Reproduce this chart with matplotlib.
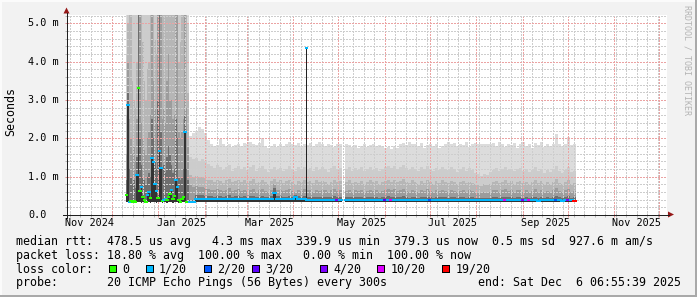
import datetime as dt
import numpy as np
import matplotlib
matplotlib.use('Agg')
import matplotlib.pyplot as plt
import matplotlib.transforms as mtrans
from matplotlib.patches import Rectangle, Polygon
from matplotlib.lines import Line2D

W, H = 697, 297
START = dt.datetime(2024, 11, 1, 6, 55, 39)
SPAN_DAYS = 400

# loss count -> colour (smokeping legend)
loss_levels = [0, 1, 2, 3, 4, 10, 19]
loss_labels = ['0', '1/20', '2/20', '3/20', '4/20', '10/20', '19/20']
loss_colors = ['#26ff00', '#00b8ff', '#0059ff', '#5e00ff', '#7e00ff', '#dd00ff', '#ff0000']

# ---- noisy period (Dec/Jan), one column per day, values in ms ----
noisy_first_day = 39
noisy_lo = [0.33, 0.33, 0.31, 0.33, 0.32, 0.33, 0.30, 0.33, 0.33, 0.33,
            0.32, 0.33, 0.33, 0.30, 0.33, 0.33, 0.32, 0.33, 0.33, 0.33,
            0.32, 0.33, 0.33, 0.33, 0.31, 0.33, 0.33, 0.32, 0.33, 0.33,
            0.33, 0.32, 0.33, 0.33, 0.33, 0.30, 0.33, 0.33, 0.33, 0.33,
            0.32, 0.31]
noisy_med = [0.53, 2.86, 0.33, 0.37, 0.35, 0.37, 0.33, 1.05, 3.30, 0.62,
             0.72, 0.48, 0.40, 0.33, 0.52, 0.60, 0.45, 1.49, 1.38, 0.80,
             0.63, 0.45, 1.67, 1.22, 0.37, 0.40, 0.43, 0.38, 0.47, 0.55,
             0.65, 0.42, 0.50, 0.92, 0.72, 0.38, 0.33, 0.43, 0.47, 2.16,
             0.35, 0.33]
noisy_loss = [0, 1, 1, 0, 0, 0, 0, 1, 0, 0,
              1, 0, 0, 0, 1, 1, 0, 1, 1, 1,
              1, 0, 1, 1, 0, 1, 1, 0, 0, 0,
              1, 0, 0, 1, 1, 0, 0, 0, 0, 1,
              0, 0]
noisy_u1 = [0.90, 3.20, 1.20, 1.00, 0.80, 0.90, 0.70, 1.50, 9.00, 2.00,
            1.30, 1.00, 0.90, 0.80, 1.00, 1.10, 1.00, 2.50, 2.00, 1.40,
            1.20, 3.00, 9.00, 2.20, 1.20, 1.30, 1.10, 1.50, 1.80, 1.60,
            1.30, 1.10, 1.20, 2.50, 2.00, 1.00, 0.90, 1.00, 1.20, 2.60,
            1.20, 0.90]
noisy_u2 = [1.60, 4.00, 2.50, 2.00, 1.60, 1.80, 1.40, 2.50, 9.00, 9.00,
            2.40, 2.00, 1.70, 1.60, 2.00, 2.20, 2.60, 9.00, 3.50, 2.80,
            2.40, 9.00, 9.00, 9.00, 2.50, 2.80, 2.40, 3.50, 4.20, 3.00,
            3.00, 2.50, 2.60, 9.00, 9.00, 2.20, 2.00, 2.20, 2.50, 9.00,
            2.80, 1.80]
noisy_u3 = [2.60, 5.00, 9.00, 9.00, 3.50, 3.00, 2.80, 4.00, 9.00, 9.00,
            9.00, 4.50, 3.50, 3.00, 3.80, 4.00, 9.00, 9.00, 9.00, 4.60,
            4.20, 9.00, 9.00, 9.00, 9.00, 9.00, 9.00, 9.00, 9.00, 9.00,
            9.00, 9.00, 9.00, 9.00, 9.00, 4.00, 4.50, 9.00, 9.00, 9.00,
            9.00, 3.20]
noisy_u4 = [4.20, 9.00, 9.00, 9.00, 9.00, 9.00, 9.00, 9.00, 9.00, 9.00,
            9.00, 9.00, 9.00, 9.00, 9.00, 9.00, 9.00, 9.00, 9.00, 9.00,
            9.00, 9.00, 9.00, 9.00, 9.00, 9.00, 9.00, 9.00, 9.00, 9.00,
            9.00, 9.00, 9.00, 9.00, 9.00, 9.00, 9.00, 9.00, 9.00, 9.00,
            9.00, 5.00]
noisy_u5 = [9.00] * 42

# ---- steady period, one column per 2 days ----
steady_first_day = 81
nan = float('nan')
steady_lo = [0.31, 0.31, 0.34, 0.34, 0.33, 0.34, 0.33, 0.34, 0.33, 0.34,
             0.33, 0.34, 0.33, 0.33, 0.34, 0.33, 0.34, 0.33, 0.33, 0.34,
             0.33, 0.33, 0.34, 0.33, 0.33, 0.34, 0.33, 0.33, 0.34, 0.33,
             0.33, 0.34, 0.33, 0.33, 0.34, 0.33, 0.33, 0.33, 0.34, 0.33,
             0.33, 0.33, 0.34, 0.33, 0.33, 0.33, 0.34, 0.33, 0.33, 0.33,
             0.33, nan, 0.33, 0.33, 0.34, 0.33, 0.33, 0.33, 0.34, 0.33,
             0.33, 0.33, 0.34, 0.33, 0.33, 0.33, 0.34, 0.33, 0.33, 0.33,
             0.33, 0.34, 0.33, 0.33, 0.33, 0.34, 0.33, 0.33, 0.33, 0.33,
             0.34, 0.33, 0.33, 0.33, 0.34, 0.33, 0.33, 0.33, 0.33, 0.34,
             0.33, 0.33, 0.33, 0.34, 0.33, 0.33, 0.33, 0.33, 0.34, 0.33,
             0.33, 0.33, 0.34, 0.33, 0.33, 0.33, 0.33, 0.34, 0.33, 0.33,
             0.33, 0.34, 0.33, 0.33, 0.33, 0.33, 0.34, 0.33, 0.33, 0.33,
             0.34, 0.33, 0.33, 0.33, 0.33, 0.34, 0.33, 0.33, 0.33]
steady_med = [0.33, 0.33, 0.43, 0.43, 0.42, 0.43, 0.43, 0.42, 0.43, 0.43,
              0.42, 0.42, 0.41, 0.42, 0.41, 0.42, 0.41, 0.42, 0.41, 0.42,
              0.41, 0.42, 0.41, 0.41, 0.42, 0.41, 0.41, 0.42, 0.58, 0.42,
              0.42, 0.41, 0.42, 0.41, 0.42, 0.46, 0.42, 0.41, 0.41, 0.40,
              0.40, 0.39, 0.40, 0.39, 0.39, 0.40, 0.39, 0.39, 0.40, 0.39,
              0.39, nan, 0.39, 0.38, 0.39, 0.38, 0.39, 0.38, 0.38, 0.39,
              0.38, 0.39, 0.38, 0.38, 0.39, 0.38, 0.38, 0.39, 0.38, 0.39,
              0.39, 0.38, 0.39, 0.40, 0.38, 0.39, 0.38, 0.39, 0.38, 0.38,
              0.39, 0.38, 0.39, 0.38, 0.38, 0.39, 0.40, 0.38, 0.39, 0.38,
              0.38, 0.39, 0.38, 0.38, 0.39, 0.38, 0.38, 0.39, 0.38, 0.39,
              0.38, 0.39, 0.38, 0.39, 0.38, 0.38, 0.39, 0.38, 0.39, 0.38,
              0.38, 0.39, 0.40, 0.38, 0.39, 0.38, 0.37, 0.39, 0.38, 0.39,
              0.40, 0.38, 0.39, 0.38, 0.37, 0.39, 0.38, 0.39, 0.37]
steady_loss = [1, 1, 1, 1, 1, 1, 1, 1, 1, 1,
               1, 1, 1, 1, 1, 1, 1, 1, 1, 1,
               1, 1, 1, 1, 1, 1, 1, 1, 1, 1,
               1, 1, 1, 1, 1, 1, 1, 1, 1, 1,
               1, 1, 1, 1, 1, 1, 1, 1, 1, 4,
               1, 1, 1, 1, 1, 1, 1, 1, 1, 1,
               1, 1, 1, 1, 1, 3, 1, 10, 1, 1,
               1, 1, 1, 1, 1, 1, 1, 1, 1, 1,
               2, 1, 1, 1, 1, 1, 1, 1, 1, 1,
               1, 1, 1, 1, 1, 1, 1, 1, 1, 1,
               1, 1, 1, 1, 1, 10, 1, 1, 1, 1,
               1, 4, 1, 10, 1, 1, 1, 1, 1, 1,
               1, 1, 2, 1, 1, 1, 4, 1, 19]
steady_u1 = [0.40, 0.40, 0.52, 0.51, 0.52, 0.50, 0.50, 0.49, 0.48, 0.50,
             0.49, 0.48, 0.49, 0.51, 0.48, 0.49, 0.50, 0.48, 0.49, 0.47,
             0.49, 0.50, 0.47, 0.48, 0.50, 0.48, 0.47, 0.49, 0.70, 0.49,
             0.49, 0.47, 0.48, 0.50, 0.48, 0.52, 0.49, 0.48, 0.49, 0.48,
             0.47, 0.46, 0.48, 0.47, 0.48, 0.47, 0.46, 0.47, 0.49, 0.47,
             0.48, nan, 0.47, 0.48, 0.46, 0.47, 0.46, 0.48, 0.45, 0.47,
             0.48, 0.46, 0.47, 0.45, 0.46, 0.48, 0.49, 0.47, 0.48, 0.46,
             0.48, 0.49, 0.47, 0.45, 0.48, 0.47, 0.45, 0.47, 0.46, 0.48,
             0.47, 0.45, 0.47, 0.46, 0.48, 0.47, 0.45, 0.47, 0.46, 0.45,
             0.47, 0.48, 0.45, 0.47, 0.46, 0.45, 0.44, 0.44, 0.45, 0.44,
             0.45, 0.47, 0.48, 0.45, 0.47, 0.48, 0.46, 0.47, 0.45, 0.47,
             0.48, 0.45, 0.47, 0.45, 0.46, 0.48, 0.45, 0.47, 0.44, 0.46,
             0.45, 0.47, 0.50, 0.46, 0.45, 0.47, 0.49, 0.45, 0.46]
steady_u2 = [0.78, 0.74, 0.76, 0.72, 0.74, 0.70, 0.68, 0.66, 0.64, 0.68,
             0.65, 0.62, 0.66, 0.70, 0.63, 0.65, 0.68, 0.63, 0.66, 0.62,
             0.66, 0.69, 0.61, 0.64, 0.67, 0.63, 0.60, 0.65, 0.80, 0.64,
             0.66, 0.62, 0.65, 0.68, 0.63, 0.61, 0.66, 0.63, 0.67, 0.64,
             0.65, 0.61, 0.66, 0.63, 0.66, 0.64, 0.60, 0.64, 0.68, 0.63,
             0.65, nan, 0.63, 0.66, 0.61, 0.64, 0.62, 0.66, 0.60, 0.63,
             0.66, 0.63, 0.65, 0.61, 0.63, 0.66, 0.68, 0.64, 0.67, 0.63,
             0.66, 0.69, 0.63, 0.61, 0.66, 0.63, 0.60, 0.65, 0.62, 0.67,
             0.63, 0.61, 0.65, 0.62, 0.66, 0.63, 0.61, 0.65, 0.63, 0.60,
             0.63, 0.66, 0.61, 0.64, 0.62, 0.60, 0.58, 0.57, 0.60, 0.58,
             0.61, 0.64, 0.66, 0.61, 0.64, 0.67, 0.62, 0.65, 0.61, 0.64,
             0.66, 0.61, 0.64, 0.60, 0.63, 0.67, 0.61, 0.65, 0.60, 0.63,
             0.61, 0.64, 0.70, 0.62, 0.60, 0.64, 0.68, 0.61, 0.62]
steady_u3 = [1.05, 1.00, 1.02, 0.98, 1.00, 0.96, 0.92, 0.90, 0.86, 0.92,
             0.88, 0.84, 0.90, 0.94, 0.85, 0.88, 0.92, 0.86, 0.90, 0.84,
             0.89, 0.93, 0.83, 0.87, 0.91, 0.85, 0.82, 0.88, 0.95, 0.86,
             0.90, 0.84, 0.88, 0.92, 0.86, 0.82, 0.89, 0.85, 0.91, 0.87,
             0.88, 0.83, 0.90, 0.85, 0.89, 0.86, 0.81, 0.87, 0.92, 0.85,
             0.88, nan, 0.86, 0.90, 0.83, 0.87, 0.84, 0.89, 0.82, 0.86,
             0.90, 0.85, 0.88, 0.82, 0.86, 0.89, 0.92, 0.87, 0.91, 0.85,
             0.89, 0.93, 0.86, 0.83, 0.90, 0.86, 0.82, 0.88, 0.84, 0.91,
             0.86, 0.82, 0.88, 0.84, 0.90, 0.86, 0.83, 0.89, 0.85, 0.80,
             0.85, 0.89, 0.83, 0.87, 0.84, 0.80, 0.78, 0.76, 0.80, 0.78,
             0.82, 0.86, 0.89, 0.83, 0.87, 0.90, 0.84, 0.88, 0.82, 0.86,
             0.89, 0.83, 0.87, 0.81, 0.85, 0.90, 0.83, 0.88, 0.80, 0.85,
             0.82, 0.87, 0.95, 0.84, 0.80, 0.86, 0.92, 0.82, 0.84]
steady_u4 = [1.50, 1.46, 1.48, 1.42, 1.46, 1.40, 1.34, 1.28, 1.22, 1.30,
             1.26, 1.18, 1.24, 1.30, 1.16, 1.22, 1.28, 1.20, 1.25, 1.18,
             1.24, 1.30, 1.15, 1.22, 1.27, 1.19, 1.12, 1.20, 1.26, 1.18,
             1.23, 1.16, 1.21, 1.28, 1.20, 1.14, 1.24, 1.19, 1.26, 1.20,
             1.22, 1.15, 1.26, 1.18, 1.24, 1.20, 1.13, 1.22, 1.27, 1.19,
             1.23, nan, 1.20, 1.26, 1.16, 1.22, 1.18, 1.25, 1.14, 1.21,
             1.26, 1.18, 1.23, 1.15, 1.20, 1.24, 1.27, 1.22, 1.28, 1.20,
             1.25, 1.30, 1.22, 1.18, 1.26, 1.21, 1.16, 1.24, 1.19, 1.27,
             1.20, 1.15, 1.23, 1.18, 1.25, 1.21, 1.17, 1.24, 1.20, 1.13,
             1.19, 1.24, 1.16, 1.22, 1.18, 1.10, 1.06, 1.02, 1.08, 1.04,
             1.12, 1.18, 1.22, 1.15, 1.20, 1.24, 1.17, 1.21, 1.14, 1.19,
             1.23, 1.16, 1.20, 1.12, 1.18, 1.24, 1.15, 1.21, 1.10, 1.17,
             1.13, 1.20, 1.28, 1.16, 1.10, 1.18, 1.24, 1.12, 1.15]
steady_u5 = [2.05, 2.15, 2.20, 2.30, 2.25, 2.15, 1.95, 1.85, 1.80, 1.83,
             1.98, 1.84, 1.80, 1.86, 1.78, 1.82, 1.85, 1.80, 1.88, 1.84,
             1.90, 1.86, 1.82, 1.88, 2.00, 1.80, 1.76, 1.80, 1.84, 1.78,
             1.86, 1.80, 1.85, 1.90, 1.84, 1.82, 1.87, 1.81, 1.86, 1.83,
             1.88, 1.80, 1.84, 1.90, 1.85, 1.80, 1.86, 1.82, 1.78, 1.84,
             1.86, nan, 1.86, 1.83, 1.78, 1.82, 1.76, 1.80, 1.84, 1.78,
             1.82, 1.86, 1.80, 1.83, 1.79, 1.74, 1.78, 1.72, 1.80, 1.76,
             1.84, 1.88, 1.82, 1.90, 1.86, 1.84, 1.80, 1.88, 1.76, 1.82,
             1.86, 1.79, 1.84, 1.74, 1.80, 1.86, 1.90, 1.84, 1.88, 1.80,
             1.86, 1.82, 1.90, 1.78, 1.84, 1.88, 1.84, 1.86, 1.85, 1.84,
             1.86, 1.88, 1.80, 1.90, 1.84, 1.78, 1.86, 1.82, 1.88, 1.76,
             1.84, 1.90, 1.80, 1.86, 1.74, 1.88, 1.82, 1.90, 1.78, 1.84,
             1.80, 1.86, 2.10, 1.84, 1.80, 1.86, 2.03, 1.82, 1.86]

# single-sample outliers
spike_day = [159.0]
spike_lo = [0.38]
spike_med = [4.35]
spike_loss = [1]
thin_day = [333.0]
thin_top = [3.20]

legend_line1 = "median rtt:  478.5 us avg   4.3 ms max  339.9 us min  379.3 us now  0.5 ms sd  927.6 m am/s"
legend_line2 = "packet loss: 18.80 % avg  100.00 % max   0.00 % min  100.00 % now"
legend_line4 = "probe:       20 ICMP Echo Pings (56 Bytes) every 300s"
end_text = "end: Sat Dec  6 06:55:39 2025"

# ---------------------------------------------------------------
MONO = 'DejaVu Sans Mono'
band_colors = ['#6e6e6e', '#9c9c9c', '#b6b6b6', '#cccccc', '#dcdcdc']
below_color = '#333333'
loss_map = dict(zip(loss_levels, loss_colors))


def day_of(t):
    return (t - START).total_seconds() / 86400.0


def draw_columns(ax, first, step, lo, med, loss, ups):
    x = first + step * np.arange(len(lo))
    lo = np.asarray(lo, float)
    # lightest band first, darker ones on top
    for level, col in zip(ups[::-1], band_colors[::-1]):
        lv = np.minimum(np.asarray(level, float), 6.0)
        ok = ~np.isnan(lv)
        ax.bar(x[ok], lv[ok] - lo[ok], bottom=lo[ok], width=step, align='edge',
               color=col, linewidth=0, antialiased=False, zorder=1)
    m = np.asarray(med, float)
    ok = ~np.isnan(m)
    ax.bar(x[ok], m[ok] - lo[ok], bottom=lo[ok], width=step, align='edge',
           color=below_color, linewidth=0, antialiased=False, zorder=2.6)
    cols = np.array([loss_map[l] for l in loss])
    ax.hlines(m[ok], x[ok], x[ok] + step, colors=cols[ok], linewidth=1.44,
              antialiaseds=False, capstyle='projecting', zorder=3)


fig = plt.figure(figsize=(W / 100, H / 100), dpi=100, facecolor='#f2f2f2')

# plot canvas: 600 x 200 px
ax = fig.add_axes([67 / W, (H - 215) / H, 600 / W, 200 / H])
ax.set_facecolor('white')
ax.set_xlim(0, SPAN_DAYS)
ax.set_ylim(0, 200 / 38.34)

draw_columns(ax, noisy_first_day, 1.0, noisy_lo, noisy_med, noisy_loss,
             [noisy_u1, noisy_u2, noisy_u3, noisy_u4, noisy_u5])
draw_columns(ax, steady_first_day, 2.0, steady_lo, steady_med, steady_loss,
             [steady_u1, steady_u2, steady_u3, steady_u4, steady_u5])

ax.bar(thin_day, np.array(thin_top) - 1.8, bottom=1.8, width=0.6, align='edge',
       color='#d0d0d0', linewidth=0, antialiased=False, zorder=1)
ax.bar(spike_day, np.array(spike_med) - np.array(spike_lo), bottom=spike_lo,
       width=1.0, align='edge', color='#222222', linewidth=0, antialiased=False, zorder=2.7)
ax.hlines(spike_med, spike_day, np.array(spike_day) + 1.0,
          colors=[loss_map[l] for l in spike_loss], linewidth=1.44,
          antialiaseds=False, capstyle='projecting', zorder=3)

# grid: month starts (major) and Sundays (minor), 1 ms / 0.2 ms
month_starts = []
y, mo = 2024, 12
while True:
    t = dt.datetime(y, mo, 1)
    if day_of(t) > SPAN_DAYS:
        break
    month_starts.append(day_of(t))
    mo += 1
    if mo > 12:
        y, mo = y + 1, 1
sundays = []
t = dt.datetime(2024, 11, 3)
while day_of(t) < SPAN_DAYS:
    sundays.append(day_of(t))
    t += dt.timedelta(days=7)

ax.set_xticks(month_starts)
ax.set_xticks(sundays, minor=True)
ax.set_yticks([1, 2, 3, 4, 5])
ax.set_yticks([v / 5 for v in range(1, 27) if v % 5], minor=True)
ax.grid(which='major', color='#eba3a3', linestyle=(0, (2, 2)), linewidth=0.72,
        antialiased=False)
ax.grid(which='minor', color='#cdcdcd', linestyle=(0, (2, 2)), linewidth=0.72,
        antialiased=False)
ax.set_axisbelow(False)
ax.tick_params(which='both', direction='inout', length=3, width=0.72,
               labelleft=False, labelbottom=False)
ax.tick_params(which='major', color='#e09090')
ax.tick_params(which='minor', color='#b8b8b8')
for s in ax.spines.values():
    s.set_visible(False)

# tick labels
ty = mtrans.blended_transform_factory(fig.transFigure, ax.transData)
for v in range(6):
    lab = '0.0' if v == 0 else f'{v}.0 m'
    ax.text(28 / W, v, lab, transform=ty, ha='left', va='center',
            family=MONO, fontsize=7.3, color='black', clip_on=False)
tx = mtrans.blended_transform_factory(ax.transData, fig.transFigure)
for (yy, mm) in [(2024, 11), (2025, 1), (2025, 3), (2025, 5), (2025, 7), (2025, 9), (2025, 11)]:
    a = dt.datetime(yy, mm, 1)
    b = dt.datetime(yy + (mm == 12), mm % 12 + 1, 1)
    centre = (day_of(a) + day_of(b)) / 2
    ax.text(centre, 1 - 223 / H, a.strftime('%b %Y'), transform=tx, ha='center',
            va='center', family=MONO, fontsize=7.3, color='black', clip_on=False)

# overlay in pixel coordinates for axes, legend and frame
ov = fig.add_axes([0, 0, 1, 1], zorder=5)
ov.set_xlim(0, W)
ov.set_ylim(H, 0)
ov.axis('off')
ov.patch.set_alpha(0)

ov.add_line(Line2D([63, 669], [214.5, 214.5], color='#202020', lw=0.72, antialiased=False))
ov.add_line(Line2D([66.5, 66.5], [218, 13], color='#202020', lw=0.72, antialiased=False))
ov.add_patch(Polygon([[66.5, 7.5], [63.5, 13.5], [69.5, 13.5]], closed=True,
                     color='#961818', lw=0))
ov.add_patch(Polygon([[674, 214.5], [668, 211.5], [668, 217.5]], closed=True,
                     color='#961818', lw=0))

ov.text(10.5, 112, 'Seconds', rotation=90, ha='center', va='center',
        family=MONO, fontsize=8.4, color='black')
ov.text(687.5, 5, 'RRDTOOL / TOBI OETIKER', rotation=270, ha='center', va='top',
        family=MONO, fontsize=6.0, color='#b4b4b4')

ov.text(15.5, 245.3, legend_line1, ha='left', va='baseline', family=MONO, fontsize=8.4)
ov.text(15.5, 259.0, legend_line2, ha='left', va='baseline', family=MONO, fontsize=8.4)
ov.text(15.5, 272.7, 'loss color:', ha='left', va='baseline', family=MONO, fontsize=8.4)
ov.text(15.5, 286.3, legend_line4, ha='left', va='baseline', family=MONO, fontsize=8.4)
ov.text(681, 286.3, end_text, ha='right', va='baseline', family=MONO, fontsize=8.4)

box_x = [108.5, 145.5, 203.5, 252, 320, 377, 442]
for bx, col, lab in zip(box_x, loss_colors, loss_labels):
    ov.add_patch(Rectangle((bx, 264.5), 7, 7, facecolor=col, edgecolor='black',
                           lw=0.72, antialiased=False))
    ov.text(bx + 13.5, 272.7, lab, ha='left', va='baseline', family=MONO, fontsize=8.4)

# 3d frame of the rrdtool image
ov.add_patch(Rectangle((0, 0), W, 1.5, color='#fbfbfb', lw=0))
ov.add_patch(Rectangle((0, 0), 1.5, H, color='#fbfbfb', lw=0))
ov.add_patch(Rectangle((0, H - 2), W, 2, color='#a9a9a9', lw=0))
ov.add_patch(Rectangle((W - 2, 0), 2, H, color='#a9a9a9', lw=0))

fig.savefig('out.png', dpi=100, facecolor=fig.get_facecolor())
